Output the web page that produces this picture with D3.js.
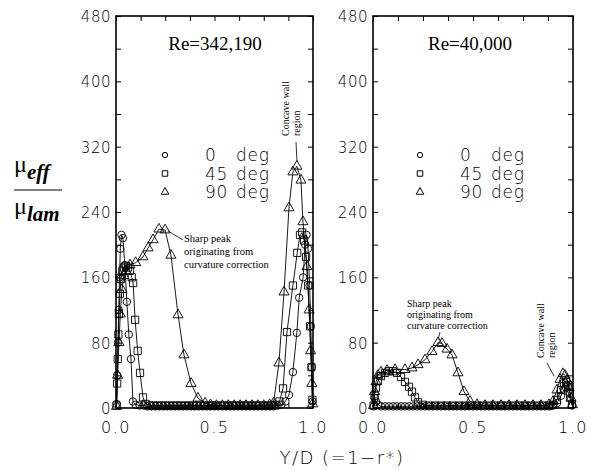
<!DOCTYPE html>
<html><head><meta charset="utf-8">
<script src="https://cdn.jsdelivr.net/npm/d3@7"></script>
<style>
body{margin:0;background:#fff}
svg{display:block}
.tk{font-family:"DejaVu Sans",sans-serif;font-weight:300}
.serif{font-family:"Liberation Serif","Times New Roman",serif}
</style></head><body>
<svg id="c" width="591" height="470"></svg>
<script>
// ---------- data ----------
const seriesNames = ["0 deg", "45 deg", "90 deg"];
const panelTitles = ["Re=342,190", "Re=40,000"];
const yTickValues = [0, 80, 160, 240, 320, 400, 480];
const yMinorTicks = [0, 40, 80, 120, 160, 200, 240, 280, 320, 360, 400, 440, 480];
const xTickLabels = [0.0, 0.5, 1.0];
const xMinorTicks = [0, 0.125, 0.25, 0.375, 0.5, 0.625, 0.75, 0.875, 1.0];

// Re = 342,190
const hiRe0deg = [[0.003,5],[0.006,40],[0.01,80],[0.014,120],[0.018,160],[0.022,195],[0.028,212],[0.035,208],[0.045,175],[0.055,130],[0.065,90],[0.076,60],[0.086,8],[0.1,4],[0.12,3],[0.14,3],[0.16,2],[0.18,2],[0.2,2],[0.22,2],[0.24,2],[0.26,2],[0.28,2],[0.3,2],[0.32,2],[0.34,2],[0.36,2],[0.38,2],[0.4,2],[0.42,2],[0.44,2],[0.46,2],[0.48,2],[0.5,2],[0.52,2],[0.54,2],[0.56,2],[0.58,2],[0.6,2],[0.62,2],[0.64,2],[0.66,2],[0.68,2],[0.7,2],[0.72,2],[0.74,2],[0.76,2],[0.78,2],[0.8,2],[0.82,3],[0.84,4],[0.86,8],[0.878,16],[0.898,44],[0.918,92],[0.93,135],[0.95,160],[0.96,200],[0.967,212],[0.975,195],[0.983,150],[0.989,100],[0.994,50],[0.998,8]];
const hiRe45deg = [[0.003,3],[0.006,30],[0.009,60],[0.012,90],[0.015,115],[0.02,140],[0.025,158],[0.032,168],[0.04,172],[0.05,174],[0.06,172],[0.07,168],[0.08,160],[0.087,153],[0.097,108],[0.11,70],[0.122,43],[0.137,13],[0.15,5],[0.17,3],[0.19,3],[0.21,3],[0.23,3],[0.25,3],[0.27,3],[0.29,3],[0.31,3],[0.33,3],[0.35,3],[0.37,3],[0.39,3],[0.41,3],[0.43,3],[0.45,3],[0.47,3],[0.49,3],[0.51,3],[0.53,3],[0.55,3],[0.57,3],[0.59,3],[0.61,3],[0.63,3],[0.65,3],[0.67,3],[0.69,3],[0.71,3],[0.73,3],[0.75,3],[0.77,3],[0.79,3],[0.81,4],[0.83,8],[0.848,24],[0.868,93],[0.898,150],[0.92,190],[0.934,212],[0.945,215],[0.955,205],[0.965,185],[0.975,150],[0.985,100],[0.992,50],[0.997,10]];
const hiRe90deg = [[0.003,2],[0.008,40],[0.015,80],[0.022,115],[0.03,145],[0.04,162],[0.05,168],[0.071,175],[0.1,178],[0.137,185],[0.163,196],[0.188,206],[0.218,219],[0.249,218],[0.279,187],[0.315,114],[0.345,65],[0.381,30],[0.416,12],[0.452,6],[0.48,4],[0.51,3],[0.54,3],[0.57,3],[0.6,3],[0.63,3],[0.66,3],[0.69,3],[0.72,3],[0.75,3],[0.78,4],[0.8,6],[0.827,55],[0.853,142],[0.878,245],[0.898,289],[0.918,296],[0.939,279],[0.949,228],[0.969,173],[0.98,120],[0.988,70],[0.994,30],[0.998,5]];

// Re = 40,000
const loRe0deg = [[0.003,2],[0.008,12],[0.015,8],[0.025,4],[0.04,2],[0.06,2],[0.08,2],[0.1,2],[0.12,2],[0.14,2],[0.16,2],[0.18,2],[0.2,2],[0.22,2],[0.24,2],[0.26,2],[0.28,2],[0.3,2],[0.32,2],[0.34,2],[0.36,2],[0.38,2],[0.4,2],[0.42,2],[0.44,2],[0.46,2],[0.48,2],[0.5,2],[0.52,2],[0.54,2],[0.56,2],[0.58,2],[0.6,2],[0.62,2],[0.64,2],[0.66,2],[0.68,2],[0.7,2],[0.72,2],[0.74,2],[0.76,2],[0.78,2],[0.8,2],[0.82,2],[0.84,2],[0.86,2],[0.88,2],[0.9,3],[0.92,6],[0.94,15],[0.955,22],[0.965,25],[0.975,20],[0.985,12],[0.995,3]];
const loRe45deg = [[0.003,3],[0.008,15],[0.015,25],[0.025,33],[0.04,39],[0.06,43],[0.08,45],[0.1,45],[0.12,43],[0.14,38],[0.16,32],[0.18,26],[0.195,20],[0.21,13],[0.225,7],[0.25,4],[0.28,3],[0.31,3],[0.34,3],[0.37,3],[0.4,3],[0.43,3],[0.46,3],[0.49,3],[0.52,3],[0.55,3],[0.58,3],[0.61,3],[0.64,3],[0.67,3],[0.7,3],[0.73,3],[0.76,3],[0.79,3],[0.82,3],[0.85,3],[0.88,3],[0.9,4],[0.92,10],[0.94,22],[0.955,30],[0.965,32],[0.975,28],[0.985,18],[0.995,5]];
const loRe90deg = [[0.003,3],[0.008,20],[0.015,32],[0.025,40],[0.04,44],[0.07,46],[0.11,47],[0.16,47],[0.195,49],[0.225,53],[0.26,59],[0.295,69],[0.325,80],[0.345,79],[0.37,72],[0.395,65],[0.425,43],[0.455,20],[0.485,8],[0.52,4],[0.56,3],[0.6,3],[0.64,3],[0.68,3],[0.72,3],[0.76,3],[0.8,3],[0.84,3],[0.88,4],[0.9,8],[0.92,22],[0.935,35],[0.95,42],[0.96,40],[0.97,34],[0.98,25],[0.99,12],[0.997,4]];

// ---------- drawing ----------
const svg = d3.select("#c");
const symbols = [d3.symbolCircle, d3.symbolSquare, d3.symbolTriangle];
const symSizes = [44, 52, 44];
const legSizes = [22, 30, 26];

const panels = [
  {title: panelTitles[0], x0: 116, x1: 313, data: [hiRe0deg, hiRe45deg, hiRe90deg], tx: 215, legX: 165},
  {title: panelTitles[1], x0: 373, x1: 573, data: [loRe0deg, loRe45deg, loRe90deg], tx: 470, legX: 420}
];
const yTop = 16, yBot = 408;

panels.forEach((p, pi) => {
  const x = d3.scaleLinear().domain([0, 1]).range([p.x0, p.x1]);
  const y = d3.scaleLinear().domain([0, 480]).range([yBot, yTop]);
  const g = svg.append("g");

  // minor inward ticks
  const tick = 5;
  g.append("g").attr("transform", `translate(0,${yBot})`)
    .call(d3.axisBottom(x).tickValues(xMinorTicks).tickSize(-tick).tickFormat(""))
    .call(a => a.select(".domain").remove());
  g.append("g").attr("transform", `translate(0,${yTop})`)
    .call(d3.axisTop(x).tickValues(xMinorTicks).tickSize(-tick).tickFormat(""))
    .call(a => a.select(".domain").remove());
  g.append("g").attr("transform", `translate(${p.x0},0)`)
    .call(d3.axisLeft(y).tickValues(yMinorTicks).tickSize(-tick).tickFormat(""))
    .call(a => a.select(".domain").remove());
  g.append("g").attr("transform", `translate(${p.x1},0)`)
    .call(d3.axisRight(y).tickValues(yMinorTicks).tickSize(-tick).tickFormat(""))
    .call(a => a.select(".domain").remove());
  g.selectAll(".tick line").attr("stroke", "#000").attr("stroke-width", 1);

  // frame
  g.append("rect").attr("x", p.x0).attr("y", yTop).attr("width", p.x1 - p.x0).attr("height", yBot - yTop)
    .attr("fill", "none").attr("stroke", "#000").attr("stroke-width", 1.6);

  // y tick labels
  g.selectAll(".yl").data(yTickValues).join("text")
    .attr("class", "tk").attr("x", p.x0 - 5).attr("y", d => y(d) + 6)
    .attr("text-anchor", "end").attr("font-size", 15).attr("letter-spacing", 0.5)
    .text(d => d);
  // x tick labels
  g.selectAll(".xl").data(xTickLabels).join("text")
    .attr("class", "tk").attr("x", d => x(d)).attr("y", yBot + 25)
    .attr("text-anchor", "middle").attr("font-size", 16).attr("letter-spacing", 1.5)
    .text(d => d3.format(".1f")(d));

  // series
  const line = d3.line().x(d => x(d[0])).y(d => y(d[1]));
  p.data.forEach((s, si) => {
    g.append("path").attr("d", line(s)).attr("fill", "none").attr("stroke", "#000").attr("stroke-width", 0.9);
  });
  p.data.forEach((s, si) => {
    g.selectAll(null).data(s).join("path")
      .attr("transform", d => `translate(${x(d[0])},${y(d[1])})`)
      .attr("d", d3.symbol().type(symbols[si]).size(symSizes[si]))
      .attr("fill", "none").attr("stroke", "#000").attr("stroke-width", 0.9);
  });

  // title
  g.append("text").attr("class", "serif").attr("x", p.tx).attr("y", 50)
    .attr("text-anchor", "middle").attr("font-size", 19).text(p.title);

  // legend
  seriesNames.forEach((n, i) => {
    const cy = 155 + i * 18.5;
    g.append("path").attr("transform", `translate(${p.legX},${cy})`)
      .attr("d", d3.symbol().type(symbols[i]).size(legSizes[i]))
      .attr("fill", "none").attr("stroke", "#000").attr("stroke-width", 1);
    const parts = n.split(" ");
    g.append("text").attr("class", "tk").attr("x", p.legX + 40).attr("y", cy + 6)
      .attr("font-size", 17).attr("letter-spacing", 0.8).text(parts[0]);
    g.append("text").attr("class", "tk").attr("x", p.legX + 71).attr("y", cy + 6)
      .attr("font-size", 17).attr("letter-spacing", 0.8).text(parts[1]);
  });
});

// annotations
function multi(x, y, lines, lh, size) {
  const t = svg.append("text").attr("class", "serif").attr("font-size", size).attr("x", x).attr("y", y);
  lines.forEach((l, i) => t.append("tspan").attr("x", x).attr("dy", i ? lh : 0).text(l));
}
const sharpLines = ["Sharp peak", "originating from", "curvature correction"];
multi(184, 242, sharpLines, 13, 10.5);
svg.append("line").attr("x1", 183).attr("y1", 240).attr("x2", 168).attr("y2", 231).attr("stroke", "#000").attr("stroke-width", 0.8);
multi(407, 307, sharpLines, 11, 10);
svg.append("line").attr("x1", 440).attr("y1", 332).attr("x2", 438).attr("y2", 340).attr("stroke", "#000").attr("stroke-width", 0.8);

function vtext(x, y, lines, size) {
  const t = svg.append("text").attr("class", "serif").attr("font-size", size)
    .attr("transform", `translate(${x},${y}) rotate(-90)`);
  lines.forEach((l, i) => t.append("tspan").attr("x", 0).attr("dy", i ? size * 1.05 : 0).text(l));
}
vtext(289, 136, ["Concave wall", "region"], 10);
svg.append("line").attr("x1", 296).attr("y1", 142).attr("x2", 297).attr("y2", 162).attr("stroke", "#000").attr("stroke-width", 0.8);
vtext(544, 358, ["Concave wall", "region"], 10);
svg.append("line").attr("x1", 547).attr("y1", 363).attr("x2", 554).attr("y2", 376).attr("stroke", "#000").attr("stroke-width", 0.8);

// y-axis label
const yl = svg.append("g").attr("class", "serif");
const n = yl.append("text").attr("x", 14).attr("y", 172).attr("font-size", 24);
n.append("tspan").text("μ");
n.append("tspan").attr("dy", 7).attr("font-size", 21).attr("font-style", "italic").attr("font-weight", "bold").text("eff");
yl.append("line").attr("x1", 14).attr("x2", 62).attr("y1", 190).attr("y2", 190).attr("stroke", "#000").attr("stroke-width", 1.2);
const dn = yl.append("text").attr("x", 14).attr("y", 214).attr("font-size", 24);
dn.append("tspan").text("μ");
dn.append("tspan").attr("dy", 7).attr("font-size", 21).attr("font-style", "italic").attr("font-weight", "bold").text("lam");

// x-axis label
svg.append("text").attr("class", "tk").attr("x", 342).attr("y", 464).attr("text-anchor", "middle")
  .attr("font-size", 18).attr("letter-spacing", 1.5).text("Y/D (=1\u2212r*)");
</script>
</body></html>
